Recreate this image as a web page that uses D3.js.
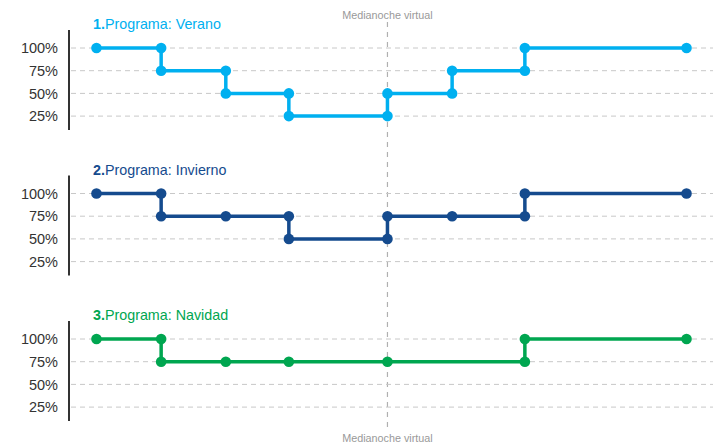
<!DOCTYPE html>
<html>
<head>
<meta charset="utf-8">
<script src="https://cdn.jsdelivr.net/npm/d3@7"></script>
<style>
  body { margin: 0; background: #fff; }
  svg { display: block; font-family: "Liberation Sans", Arial, sans-serif; }
</style>
</head>
<body>
<svg></svg>
<script>
const svgWidth = 713;
const svgHeight = 448;

// hours relative to the virtual midnight
const timesVerano = [-9, -7, -5, -3.05, 0, 2, 4.25, 9.25];
const valuesVerano = [100, 75, 50, 25, 50, 75, 100, 100];
const timesInvierno = [-9, -7, -5, -3.05, 0, 2, 4.25, 9.25];
const valuesInvierno = [100, 75, 75, 50, 75, 75, 100, 100];
const timesNavidad = [-9, -7, -5, -3.05, 0, 4.25, 9.25];
const valuesNavidad = [100, 75, 75, 75, 75, 100, 100];

const programNames = ["Programa: Verano", "Programa: Invierno", "Programa: Navidad"];
const programColors = ["#00b0f0", "#154b8e", "#00a650"];
const yTicks = [25, 50, 75, 100];
const midnightLabel = "Medianoche virtual";

const series = [
  { times: timesVerano, values: valuesVerano },
  { times: timesInvierno, values: valuesInvierno },
  { times: timesNavidad, values: valuesNavidad }
];

const axisX = 69;
const panelTop = [48, 193.5, 339];   // pixel of 100%
const step = 22.7;                  // pixels per 25%

const svg = d3.select('svg')
            .attr("width", svgWidth)
            .attr("height", svgHeight)

const x = d3.scaleLinear()
            .domain([-9.85, 10.1])
            .range([axisX, svgWidth + 1])

// vertical midnight line
svg.append("line")
   .attr("x1", x(0)).attr("x2", x(0))
   .attr("y1", 22).attr("y2", 428)
   .attr("stroke", "#b0b0b0")
   .attr("stroke-width", 1.2)
   .attr("stroke-dasharray", "5,5")

svg.append("text")
   .attr("x", x(0)).attr("y", 19)
   .attr("text-anchor", "middle")
   .attr("font-size", 10.8)
   .attr("fill", "#999")
   .text(midnightLabel)

svg.append("text")
   .attr("x", x(0)).attr("y", 442)
   .attr("text-anchor", "middle")
   .attr("font-size", 10.8)
   .attr("fill", "#999")
   .text(midnightLabel)

series.forEach((s, i) => {
  const top = panelTop[i];
  const color = programColors[i];
  const y = d3.scaleLinear()
              .domain([100, 25])
              .range([top, top + 3 * step])

  const g = svg.append("g")

  // dashed grid lines
  g.selectAll(".grid")
   .data(yTicks)
   .enter()
   .append("line")
   .attr("x1", axisX + 2).attr("x2", svgWidth)
   .attr("y1", d => y(d)).attr("y2", d => y(d))
   .attr("stroke", "#c8c8c8")
   .attr("stroke-dasharray", "5,4")

  // y axis
  const axis = d3.axisLeft(y)
                 .tickValues(yTicks)
                 .tickSize(0)
                 .tickPadding(11)
                 .tickFormat(d => d + "%")
  const ag = g.append("g")
              .attr("transform", `translate(${axisX},0)`)
              .call(axis)
  ag.select(".domain").remove()
  ag.selectAll("text")
    .attr("font-size", 14.5)
    .attr("font-family", "Liberation Sans, Arial, sans-serif")
    .attr("fill", "#333")
  g.append("line")
   .attr("x1", axisX).attr("x2", axisX)
   .attr("y1", top - 18).attr("y2", top + 3 * step + 14)
   .attr("stroke", "#333")
   .attr("stroke-width", 2)

  // title
  const title = g.append("text")
                 .attr("x", 93).attr("y", top - 19)
                 .attr("font-size", 14.3)
                 .attr("fill", color)
  title.append("tspan").attr("font-weight", "bold").text((i + 1) + ".")
  title.append("tspan").text(programNames[i])

  // step line
  const pts = s.times.map((t, k) => [t, s.values[k]])
  const line = d3.line()
                 .x(d => x(d[0]))
                 .y(d => y(d[1]))
                 .curve(d3.curveStepAfter)
  g.append("path")
   .datum(pts)
   .attr("d", line)
   .attr("fill", "none")
   .attr("stroke", color)
   .attr("stroke-width", 3.5)

  // dots at every vertex, both ends of each vertical step
  const dots = []
  pts.forEach((p, k) => {
    if (k > 0 && s.values[k - 1] !== p[1]) dots.push([p[0], s.values[k - 1]])
    dots.push(p)
  })
  g.selectAll(".dot")
   .data(dots)
   .enter()
   .append("circle")
   .attr("cx", d => x(d[0]))
   .attr("cy", d => y(d[1]))
   .attr("r", 5.3)
   .attr("fill", color)
})
</script>
</body>
</html>
